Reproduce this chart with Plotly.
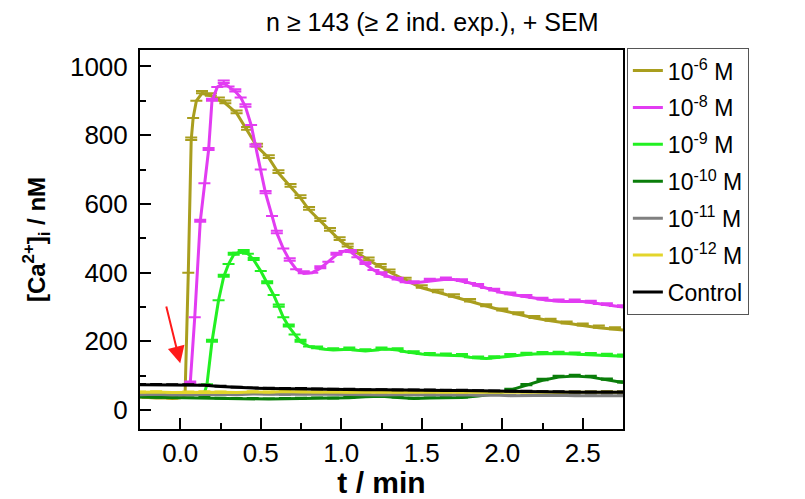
import plotly.graph_objects as go

# ---------------- data ----------------
# 10^-6 M
t_m6 = [-0.25, -0.2, -0.15, -0.1, -0.05, 0.0, 0.03, 0.05, 0.068, 0.08, 0.10, 0.135, 0.19, 0.24, 0.28,
        0.35, 0.415, 0.477, 0.55, 0.61, 0.685, 0.747, 0.80, 0.87, 0.93, 0.99, 1.04, 1.10, 1.17, 1.245,
        1.30, 1.40, 1.50, 1.60, 1.70, 1.80, 1.90, 2.00, 2.10, 2.20, 2.30, 2.40, 2.50, 2.60, 2.70, 2.75]
y_m6 = [38, 36, 35, 36, 34, 36, 45, 400, 786, 850, 900, 922, 915, 902, 893,
        864, 816, 767, 734, 690, 650, 617, 583, 550, 522, 495, 476, 458, 436, 417,
        402, 378, 356, 343, 330, 316, 302, 290, 279, 268, 260, 252, 246, 240, 235, 233]
e_m6 = [None, None, None, None, None, None, None, None, 7, None, None, 7, 7, 8, 8,
        8, 8, 8, 8, 8, 8, 8, 8, 8, 8, 8, 8, 8, 8, 8,
        7, 7, 7, 7, 7, 7, 6, 6, 6, 6, 6, 6, 6, 6, 6, None]

# 10^-8 M
t_m8 = [0.062, 0.09, 0.124, 0.15, 0.176, 0.197, 0.23, 0.27, 0.30, 0.342, 0.375, 0.405, 0.44, 0.467, 0.50,
        0.53, 0.57, 0.60, 0.64, 0.68, 0.72, 0.767, 0.82, 0.87, 0.92, 0.97, 1.02, 1.06, 1.10, 1.15,
        1.20, 1.25, 1.30, 1.35, 1.40, 1.45, 1.50, 1.55, 1.60, 1.65, 1.70, 1.75, 1.80, 1.85, 1.90,
        1.95, 2.00, 2.05, 2.10, 2.15, 2.20, 2.25, 2.30, 2.35, 2.40, 2.45, 2.50, 2.55, 2.60, 2.65,
        2.70, 2.75]
y_m8 = [78, 270, 548, 660, 757, 900, 940, 952, 942, 927, 910, 883, 830, 767, 700,
        631, 565, 515, 470, 435, 410, 398, 400, 413, 432, 452, 463, 460, 445, 425,
        408, 396, 388, 380, 372, 370, 373, 377, 380, 381, 380, 376, 370, 362, 355,
        348, 342, 337, 334, 330, 326, 322, 319, 317, 316, 317, 316, 313, 309, 306,
        303, 300]
e_m8 = [5, None, 6, None, 6, 6, None, 7, None, 7, None, 7, None, 7, None,
        7, None, 7, None, 7, None, 6, None, 6, None, 6, None, 6, None, 5,
        None, 5, None, 5, None, 5, None, 5, None, 5, None, 5, None, 5, None,
        5, None, 5, None, 5, None, 5, None, 5, None, 5, None, 5, None, 5,
        None, 5]

# 10^-9 M
t_m9 = [-0.25, -0.2, -0.15, -0.1, -0.05, 0.0, 0.05, 0.10, 0.15, 0.166, 0.197, 0.238, 0.27, 0.30, 0.332,
        0.36, 0.394, 0.42, 0.456, 0.50, 0.54, 0.58, 0.612, 0.64, 0.674, 0.71, 0.747, 0.80, 0.85, 0.90,
        0.95, 1.00, 1.05, 1.10, 1.15, 1.20, 1.25, 1.30, 1.35, 1.40, 1.45, 1.50, 1.55, 1.60, 1.65,
        1.70, 1.75, 1.80, 1.85, 1.90, 1.95, 2.00, 2.05, 2.10, 2.15, 2.20, 2.25, 2.30, 2.35, 2.40,
        2.45, 2.50, 2.55, 2.60, 2.65, 2.70, 2.75]
y_m9 = [47, 46, 48, 47, 46, 47, 48, 47, 50, 75, 199, 320, 388, 425, 452,
        458, 460, 455, 437, 405, 369, 335, 301, 270, 243, 220, 199, 185, 180, 177,
        175, 176, 177, 174, 172, 174, 177, 177, 175, 170, 166, 163, 161, 160, 160,
        160, 158, 154, 151, 150, 152, 155, 158, 160, 162, 163, 164, 165, 165, 164,
        163, 162, 161, 160, 159, 158, 157]
e_m9 = [None, None, None, None, None, None, None, None, None, None, 6, None, 6, None, 6,
        None, 6, None, 6, None, 6, None, 6, None, 6, None, 6, None, 5, None,
        5, None, 5, None, 5, None, 5, None, 5, None, 5, None, 5, None, 5,
        None, 5, None, 5, None, 5, None, 5, None, 5, None, 5, None, 5, None,
        5, None, 5, None, 5, None, 5]

# baseline concentrations share one time grid
t_base = [-0.25, -0.15, -0.05, 0.05, 0.15, 0.25, 0.35, 0.45, 0.55, 0.65, 0.75, 0.85, 0.95, 1.05, 1.15,
          1.25, 1.35, 1.45, 1.55, 1.65, 1.75, 1.85, 1.95, 2.05, 2.15, 2.25, 2.35, 2.45, 2.55, 2.65, 2.75]
y_m10 = [38, 37, 36, 35, 36, 34, 33, 33, 32, 33, 34, 35, 34, 36, 39,
         40, 37, 34, 35, 36, 37, 41, 47, 58, 72, 87, 96, 99, 96, 88, 80]
y_m11 = [45, 46, 44, 45, 47, 46, 45, 47, 46, 45, 46, 47, 46, 45, 46,
         44, 45, 46, 45, 44, 45, 43, 44, 42, 43, 42, 43, 42, 43, 42, 42]
y_m12 = [52, 53, 51, 52, 53, 52, 51, 53, 52, 54, 53, 52, 53, 52, 53,
         52, 51, 52, 53, 52, 51, 52, 52, 53, 52, 52, 51, 52, 52, 53, 52]
y_ctrl = [74, 74, 73, 73, 72, 69, 66, 64, 63, 62, 62, 61, 60, 60, 59,
          59, 58, 58, 58, 57, 57, 56, 55, 54, 54, 53, 53, 52, 52, 52, 52]
e_m10 = [2, 2, 2, 2, 2, 2, 2, 2, 2, 2, 2, 2, 2, 2, 2,
         2, 2, 2, 2, 2, 2, 3, 3, 4, 4, 4, 4, 4, 4, 4, 4]
e_small = [2] * 31

labels = ["10<sup>-6</sup> M", "10<sup>-8</sup> M", "10<sup>-9</sup> M", "10<sup>-10</sup> M",
          "10<sup>-11</sup> M", "10<sup>-12</sup> M", "Control"]
colors = ["#A99E1E", "#E23CF2", "#22F022", "#0A7D0A", "#808080", "#E3D52B", "#000000"]

series = [
    (t_m6, y_m6, e_m6),
    (t_m8, y_m8, e_m8),
    (t_m9, y_m9, e_m9),
    (t_base, y_m10, e_m10),
    (t_base, y_m11, e_small),
    (t_base, y_m12, e_small),
    (t_base, y_ctrl, e_small),
]

FONT = "Liberation Sans, Arial, sans-serif"

fig = go.Figure()
for i, ((tx, vy, ev), name, col) in enumerate(zip(series, labels, colors)):
    fig.add_trace(go.Scatter(
        x=tx, y=vy, mode="lines", name=name, legendgroup="g%d" % i,
        line=dict(color=col, width=3),
        error_y=dict(type="data", symmetric=False, array=ev,
                     arrayminus=[0 if v is not None else None for v in ev],
                     color=col, thickness=2, width=6),
    ))

fig.add_annotation(x=0.0, y=136, ax=-0.089, ay=306, xref="x", yref="y", axref="x", ayref="y",
                   text="", showarrow=True, arrowhead=2, arrowsize=1.7, arrowwidth=2,
                   arrowcolor="#FF1A1A")

fig.update_layout(
    width=805, height=499,
    margin=dict(l=140, r=182, t=50, b=70, autoexpand=False),
    paper_bgcolor="white", plot_bgcolor="white",
    font=dict(family=FONT, color="black"),
    title=dict(text="n ≥ 143 (≥ 2 ind. exp.), + SEM", x=0.537, xanchor="center",
               y=0.955, yanchor="middle", font=dict(size=25, family=FONT)),
    showlegend=True,
    legend=dict(x=1.008, xanchor="left", y=1.005, yanchor="top",
                bordercolor="#555555", borderwidth=1, bgcolor="white",
                font=dict(size=23, family=FONT), tracegroupgap=4,
                traceorder="grouped", maxheight=440),
    xaxis=dict(range=[-0.25, 2.75], dtick=0.5, tick0=0, tickformat=".1f", automargin=False,
               ticks="inside", ticklen=11, tickwidth=2, tickcolor="black",
               minor=dict(dtick=0.25, tick0=0, ticks="inside", ticklen=6, tickwidth=2, tickcolor="black"),
               showline=True, linewidth=2, linecolor="black", mirror=True,
               showgrid=False, zeroline=False, ticklabelstandoff=0,
               tickfont=dict(size=26, family=FONT),
               title=dict(text="<b>t / min</b>", font=dict(size=30, family=FONT), standoff=6)),
    yaxis=dict(range=[-55, 1048], dtick=200, tick0=0, automargin=False,
               ticks="inside", ticklen=11, tickwidth=2, tickcolor="black",
               minor=dict(dtick=100, tick0=0, ticks="inside", ticklen=6, tickwidth=2, tickcolor="black"),
               showline=True, linewidth=2, linecolor="black", mirror=True,
               showgrid=False, zeroline=False, ticklabelstandoff=5,
               tickfont=dict(size=26, family=FONT),
               title=dict(text="<b>[Ca<sup>2+</sup>]<sub>i</sub> / nM</b>", font=dict(size=24, family=FONT),
                          standoff=18)),
)

fig.write_html("out.html")
